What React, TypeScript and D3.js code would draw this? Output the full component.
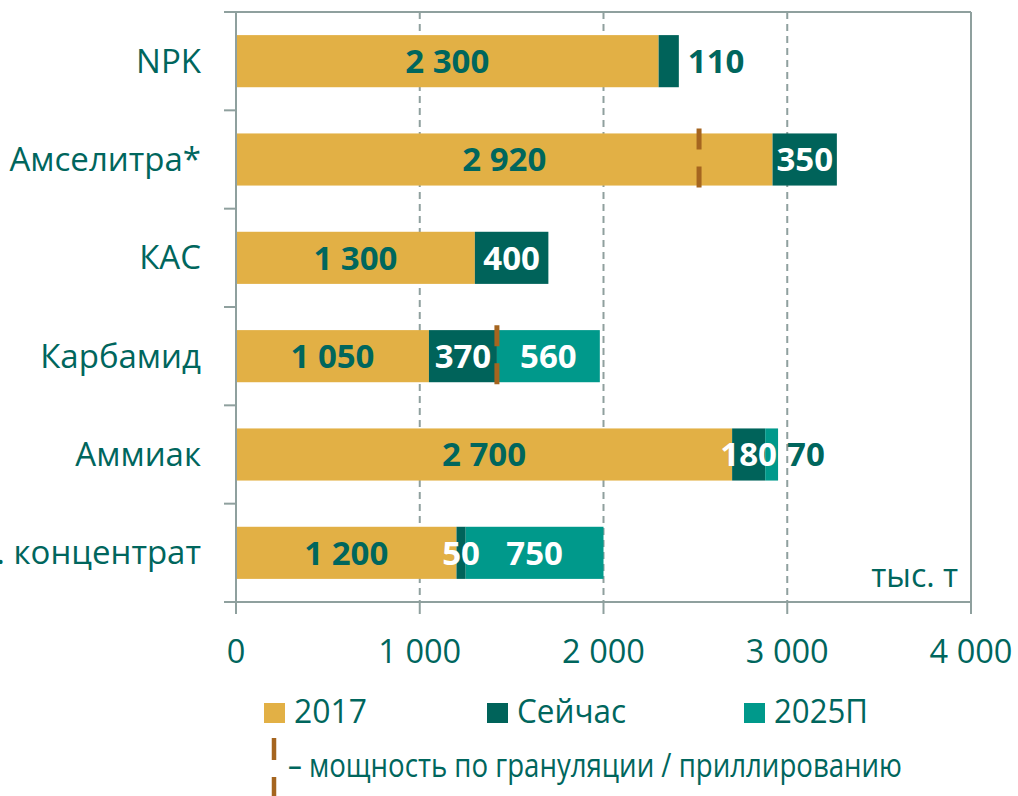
import React, { useEffect, useRef } from "react";
import * as d3 from "d3";

// chart values
const categories = ["NPK", "Амселитра*", "КАС", "Карбамид", "Аммиак", "Апатит. концентрат"];
const values2017 = [2300, 2920, 1300, 1050, 2700, 1200];
const valuesNow = [110, 350, 400, 370, 180, 50];
const values2025 = [0, 0, 0, 560, 70, 750];
const granulation = [null, 2520, null, 1420, null, null];
const seriesNames = ["2017", "Сейчас", "2025П"];
const xTicks = [0, 1000, 2000, 3000, 4000];
const unitLabel = "тыс. т";
const markerNote = "– мощность по грануляции / приллированию";

const colors = ["#E2B045", "#00635A", "#00998B"];
const textColor = "#00665D";
const axisColor = "#8FA09E";
const markColor = "#A5651F";
const font = "'Open Sans', sans-serif";

const W = 1018;
const H = 796;

const App = () => {
  const svgRef = useRef(null);

  useEffect(() => {
    const svg = d3.select(svgRef.current);
    svg.selectAll("*").remove();

    const left = 236, right = 971, top = 12, bottom = 602;

    const x = d3.scaleLinear().domain([0, 4000]).range([left, right]);
    const y = d3
      .scaleBand()
      .domain(categories)
      .range([top, bottom])
      .paddingInner(0.47)
      .paddingOuter(0.235);
    const step = y.step();

    const fmt = d3.formatLocale({ decimal: ",", thousands: " ", grouping: [3], currency: ["", ""] }).format(",d");

    // rows for the stack
    const rows = categories.map((c, i) => ({ cat: c, 0: values2017[i], 1: valuesNow[i], 2: values2025[i] }));
    const stacked = d3.stack().keys([0, 1, 2])(rows);

    // gridlines
    svg
      .append("g")
      .selectAll("line")
      .data(xTicks.slice(1, -1))
      .enter()
      .append("line")
      .attr("x1", (d) => x(d))
      .attr("x2", (d) => x(d))
      .attr("y1", top)
      .attr("y2", bottom)
      .attr("stroke", axisColor)
      .attr("stroke-width", 2)
      .attr("stroke-dasharray", "7 5");

    // frame
    const frame = svg.append("g").attr("stroke", axisColor).attr("stroke-width", 2);
    frame.append("line").attr("x1", left).attr("x2", right).attr("y1", top).attr("y2", top);
    frame.append("line").attr("x1", right).attr("x2", right).attr("y1", top).attr("y2", bottom);

    // bars
    stacked.forEach((layer, k) => {
      svg
        .append("g")
        .selectAll("rect")
        .data(layer)
        .enter()
        .append("rect")
        .attr("x", (d) => x(d[0]))
        .attr("y", (d) => y(d.data.cat))
        .attr("width", (d) => x(d[1]) - x(d[0]))
        .attr("height", y.bandwidth())
        .attr("fill", colors[k]);
    });

    // granulation markers
    categories.forEach((c, i) => {
      if (granulation[i] == null) return;
      const cy = y(c) + y.bandwidth() / 2;
      svg
        .append("line")
        .attr("x1", x(granulation[i]))
        .attr("x2", x(granulation[i]))
        .attr("y1", cy - 31)
        .attr("y2", cy + 28)
        .attr("stroke", markColor)
        .attr("stroke-width", 5)
        .attr("stroke-dasharray", "21 17");
    });

    // value labels
    const labels = svg.append("g").attr("font-family", font).attr("font-weight", 700).attr("font-size", 33);
    stacked.forEach((layer, k) => {
      layer.forEach((d, i) => {
        const v = d[1] - d[0];
        if (v <= 0) return;
        const later = stacked.slice(k + 1).some((l) => l[i][1] - l[i][0] > 0);
        const outside = !later && v < 150;
        const cy = y(d.data.cat) + y.bandwidth() / 2;
        labels
          .append("text")
          .attr("x", outside ? x(d[1]) + 9 : (x(d[0]) + x(d[1])) / 2)
          .attr("y", cy)
          .attr("dy", "0.36em")
          .attr("text-anchor", outside ? "start" : "middle")
          .attr("fill", outside || k === 0 ? textColor : "#fff")
          .text(fmt(v));
      });
    });

    // y axis
    const yAxis = svg.append("g").attr("stroke", axisColor).attr("stroke-width", 2);
    yAxis.append("line").attr("x1", left).attr("x2", left).attr("y1", top).attr("y2", bottom);
    yAxis
      .selectAll("line.tick")
      .data(d3.range(categories.length + 1))
      .enter()
      .append("line")
      .attr("class", "tick")
      .attr("x1", left - 12)
      .attr("x2", left)
      .attr("y1", (d) => top + d * step)
      .attr("y2", (d) => top + d * step);

    svg
      .append("g")
      .selectAll("text")
      .data(categories)
      .enter()
      .append("text")
      .attr("x", 201)
      .attr("y", (d) => y(d) + y.bandwidth() / 2)
      .attr("dy", "0.35em")
      .attr("text-anchor", "end")
      .attr("font-family", font)
      .attr("font-size", 33)
      .attr("fill", textColor)
      .text((d) => d);

    // x axis
    const xAxis = svg.append("g").attr("stroke", axisColor).attr("stroke-width", 2);
    xAxis.append("line").attr("x1", left - 12).attr("x2", right).attr("y1", bottom).attr("y2", bottom);
    xAxis
      .selectAll("line.tick")
      .data(xTicks)
      .enter()
      .append("line")
      .attr("class", "tick")
      .attr("x1", (d) => x(d))
      .attr("x2", (d) => x(d))
      .attr("y1", bottom)
      .attr("y2", bottom + 12);

    svg
      .append("g")
      .selectAll("text")
      .data(xTicks)
      .enter()
      .append("text")
      .attr("x", (d) => x(d))
      .attr("y", 663)
      .attr("text-anchor", "middle")
      .attr("font-family", font)
      .attr("font-size", 32.5)
      .attr("fill", textColor)
      .text((d) => fmt(d));

    svg
      .append("text")
      .attr("x", 958)
      .attr("y", 587)
      .attr("text-anchor", "end")
      .attr("font-family", font)
      .attr("font-size", 32)
      .attr("fill", textColor)
      .text(unitLabel);

    // legend
    const legendX = [264, 487, 744];
    const legendW = [73, 109, 94];
    const legend = svg.append("g");
    seriesNames.forEach((s, i) => {
      legend
        .append("rect")
        .attr("x", legendX[i])
        .attr("y", 703)
        .attr("width", 21)
        .attr("height", 20)
        .attr("fill", colors[i]);
      legend
        .append("text")
        .attr("x", legendX[i] + 30)
        .attr("y", 723)
        .attr("font-family", font)
        .attr("font-size", 33)
        .attr("fill", textColor)
        .attr("textLength", legendW[i])
        .attr("lengthAdjust", "spacingAndGlyphs")
        .text(s);
    });

    legend
      .append("line")
      .attr("x1", 274)
      .attr("x2", 274)
      .attr("y1", 738)
      .attr("y2", 800)
      .attr("stroke", markColor)
      .attr("stroke-width", 4.5)
      .attr("stroke-dasharray", "22 17");
    legend
      .append("text")
      .attr("x", 288)
      .attr("y", 777)
      .attr("font-family", font)
      .attr("font-size", 32)
      .attr("fill", textColor)
      .attr("textLength", 614)
      .attr("lengthAdjust", "spacingAndGlyphs")
      .text(markerNote);
  }, []);

  return (
    <div style={{ position: "absolute", left: 0, top: 0 }}>
      <svg ref={svgRef} width={W} height={H} style={{ display: "block", background: "#fff" }}></svg>
    </div>
  );
};

export default App;
